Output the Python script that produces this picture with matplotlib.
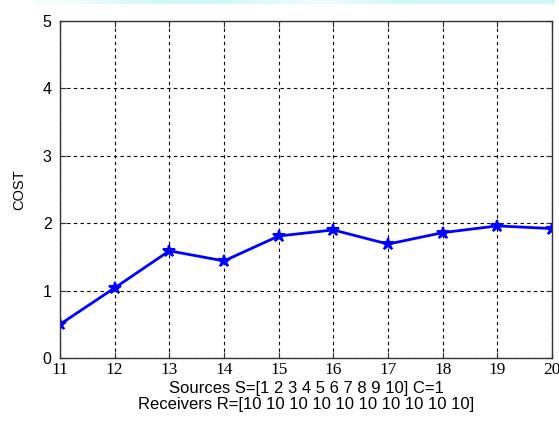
import numpy as np
import matplotlib
matplotlib.use('Agg')
import matplotlib.pyplot as plt

receivers = [11, 12, 13, 14, 15, 16, 17, 18, 19, 20]
cost = [0.50, 1.04, 1.59, 1.44, 1.81, 1.90, 1.69, 1.86, 1.96, 1.92]
y_ticks = [0, 1, 2, 3, 4, 5]

fig = plt.figure(figsize=(5.59, 4.28), dpi=100)

# light cyan strip at the top of the screenshot
band = fig.add_axes([33 / 559, 1 - 4 / 428, 522 / 559, 4 / 428])
grad = np.array([[0.2, 0.7, 1.0, 0.6, 0.3, 0.8, 1.0, 0.9]])
band.imshow(grad, aspect='auto', interpolation='bilinear',
            cmap=matplotlib.colors.LinearSegmentedColormap.from_list('c', ['#f4fdfd', '#cdf6f8']),
            extent=[0, 1, 0, 1])
band.axis('off')

ax = fig.add_axes([60 / 559, 70 / 428, 492 / 559, 337 / 428])
ax.plot(receivers, cost, color='blue', linewidth=2, marker='*', markersize=9,
        markeredgewidth=1.5)

ax.set_xlim(11, 20)
ax.set_ylim(0, 5)
ax.set_xticks(receivers)
ax.set_yticks(y_ticks)
ax.grid(True, color='black', linestyle=(0, (3, 3)), linewidth=0.8)
ax.tick_params(direction='in', length=4, top=True, right=True, color='#333333')
ax.tick_params(axis='x', pad=3)
ax.tick_params(axis='y', pad=6)
for lab in ax.get_xticklabels():
    lab.set_family('Liberation Serif')
    lab.set_fontsize(12.5)
for lab in ax.get_yticklabels():
    lab.set_family('Liberation Sans')
    lab.set_fontsize(11.5)
for s in ax.spines.values():
    s.set_color('#333333')
    s.set_linewidth(1)

ax.set_ylabel('COST', family='Liberation Sans', fontsize=10.5, labelpad=12)
ax.set_xlabel('Sources S=[1 2 3 4 5 6 7 8 9 10] C=1\nReceivers R=[10 10 10 10 10 10 10 10 10 10]',
              family='Liberation Sans', fontsize=12, linespacing=1.05, labelpad=2)

fig.savefig('out.png', dpi=100)
